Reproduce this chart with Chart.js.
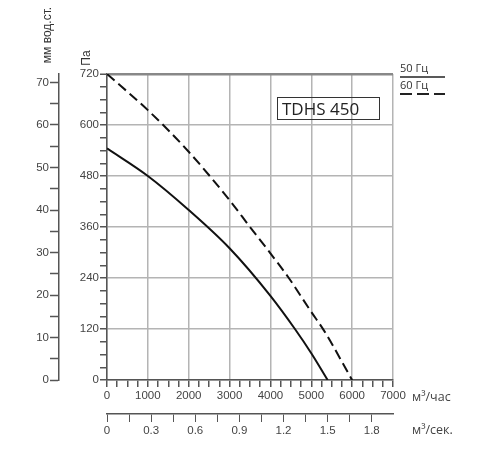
<!DOCTYPE html>
<html>
<head>
<meta charset="utf-8">
<script src="https://cdn.jsdelivr.net/npm/chart.js@4.4.0/dist/chart.umd.min.js"></script>
<style>
  html, body { margin: 0; padding: 0; background: #fff; }
  #wrap { width: 500px; height: 450px; }
</style>
</head>
<body>
<div id="wrap"><canvas id="fanChart" width="500" height="450"></canvas></div>
<script>
// Fan curve TDHS 450: pressure (Pa) vs airflow (m3/h)
const flow50 = [0, 1000, 2000, 3000, 4000, 4600, 5000, 5400];
const pressure50 = [545, 480, 400, 310, 198, 120, 63, 0];

const flow60 = [0, 1000, 2000, 3000, 3500, 4000, 4450, 5000, 5300, 6000];
const pressure60 = [720, 635, 537, 423, 360, 298, 240, 160, 118, 0];

const flowMax = 7000;
const paMax = 720;
const mmMax = 72;
const secMax = flowMax / 3600;

const modelName = 'TDHS 450';
const legendLabels = ['50 Гц', '60 Гц'];

const tickFont = { family: 'Liberation Sans', size: 11.5 };
const textColor = '#444';
const axisColor = '#555';
const gridColor = '#b4b4b4';

function toPoints(xs, ys) {
    return xs.map((x, i) => ({ x: x, y: ys[i] }));
}

function isStep(v, step) {
    const r = v / step;
    return Math.abs(r - Math.round(r)) < 1e-6;
}

// Rotated titles, unit labels, model box and legend
const decorations = {
    id: 'decorations',
    afterDraw(chart) {
        const ctx = chart.ctx;
        const area = chart.chartArea;
        ctx.save();
        ctx.fillStyle = '#333';
        ctx.font = '12px "Liberation Sans"';
        ctx.textAlign = 'center';
        ctx.textBaseline = 'middle';

        ctx.save();
        ctx.translate(48, 35);
        ctx.rotate(-Math.PI / 2);
        ctx.fillText('мм вод.ст.', 0, 0);
        ctx.restore();

        ctx.save();
        ctx.translate(87, 58);
        ctx.rotate(-Math.PI / 2);
        ctx.fillText('Па', 0, 0);
        ctx.restore();

        // unit labels
        ctx.fillStyle = textColor;
        ctx.font = '12.5px "Open Sans"';
        ctx.textAlign = 'left';
        ctx.fillText('м³/час', area.right + 19, area.bottom + 17);
        ctx.fillText('м³/сек.', area.right + 19, area.bottom + 50);

        // model box
        ctx.strokeStyle = '#333';
        ctx.lineWidth = 1;
        ctx.strokeRect(277.5, 97.5, 102, 22);
        ctx.fillStyle = '#222';
        ctx.font = '17px "Open Sans"';
        ctx.textBaseline = 'alphabetic';
        ctx.fillText(modelName, 282, 115);

        // legend
        ctx.font = '11px "Open Sans"';
        ctx.fillStyle = '#333';
        ctx.fillText(legendLabels[0], 400, 72);
        ctx.fillText(legendLabels[1], 400, 89);
        ctx.strokeStyle = '#222';
        ctx.lineWidth = 1.3;
        ctx.beginPath();
        ctx.moveTo(400, 77);
        ctx.lineTo(445, 77);
        ctx.stroke();
        ctx.lineWidth = 1.8;
        ctx.setLineDash([12, 5]);
        ctx.beginPath();
        ctx.moveTo(400, 94);
        ctx.lineTo(445, 94);
        ctx.stroke();
        ctx.restore();
    }
};

new Chart(document.getElementById('fanChart'), {
    type: 'scatter',
    data: {
        datasets: [{
            label: legendLabels[0],
            data: toPoints(flow50, pressure50),
            showLine: true,
            borderColor: '#111',
            borderWidth: 2,
            pointRadius: 0,
            cubicInterpolationMode: 'monotone',
            xAxisID: 'x',
            yAxisID: 'y'
        }, {
            label: legendLabels[1],
            data: toPoints(flow60, pressure60),
            showLine: true,
            borderColor: '#111',
            borderWidth: 2,
            borderDash: [10, 5],
            pointRadius: 0,
            cubicInterpolationMode: 'monotone',
            xAxisID: 'x',
            yAxisID: 'y'
        }]
    },
    options: {
        responsive: false,
        animation: false,
        layout: { padding: { top: 74, right: 107, bottom: 0, left: 0 } },
        plugins: {
            legend: { display: false },
            tooltip: { enabled: false }
        },
        scales: {
            x: {
                type: 'linear',
                position: 'bottom',
                weight: 0,
                min: 0,
                max: flowMax,
                afterFit: s => { s.height = 34; },
                ticks: {
                    stepSize: 250,
                    autoSkip: false,
                    maxRotation: 0,
                    padding: 2,
                    color: textColor,
                    font: tickFont,
                    callback: v => isStep(v, 1000) ? v : ''
                },
                grid: {
                    color: c => (c.tick && isStep(c.tick.value, 1000)) ? gridColor : 'transparent',
                    lineWidth: 1.5,
                    tickColor: axisColor,
                    tickLength: 7
                },
                border: { color: axisColor, width: 1.5 }
            },
            xs: {
                type: 'linear',
                position: 'bottom',
                weight: 1,
                min: 0,
                max: secMax,
                afterFit: s => { s.height = 36; },
                ticks: {
                    stepSize: 0.15,
                    autoSkip: false,
                    includeBounds: false,
                    maxRotation: 0,
                    padding: 2,
                    color: textColor,
                    font: tickFont,
                    callback: v => isStep(v, 0.3) ? +v.toFixed(1) : ''
                },
                grid: {
                    drawOnChartArea: false,
                    color: axisColor,
                    tickColor: axisColor,
                    tickLength: 8
                },
                border: { color: axisColor, width: 1.5 }
            },
            y: {
                type: 'linear',
                position: 'left',
                weight: 0,
                min: 0,
                max: paMax,
                afterFit: s => { s.width = 48; },
                ticks: {
                    stepSize: 30,
                    autoSkip: false,
                    padding: 1,
                    color: textColor,
                    font: tickFont,
                    callback: v => isStep(v, 120) ? v : ''
                },
                grid: {
                    color: c => {
                        if (!c.tick) return 'transparent';
                        if (c.tick.value === paMax) return '#888';
                        return isStep(c.tick.value, 120) ? gridColor : 'transparent';
                    },
                    lineWidth: c => (c.tick && c.tick.value === paMax) ? 2.5 : 1.5,
                    tickColor: axisColor,
                    tickWidth: 1.5,
                    tickLength: 7
                },
                border: { color: axisColor, width: 1.5 }
            },
            ymm: {
                type: 'linear',
                position: 'left',
                weight: 1,
                min: 0,
                max: mmMax,
                afterFit: s => { s.width = 59; },
                ticks: {
                    stepSize: 5,
                    autoSkip: false,
                    includeBounds: false,
                    padding: 1,
                    color: textColor,
                    font: tickFont,
                    callback: v => isStep(v, 10) ? v : ''
                },
                grid: {
                    drawOnChartArea: false,
                    color: axisColor,
                    tickColor: axisColor,
                    tickWidth: 1.5,
                    tickLength: 9
                },
                border: { color: axisColor, width: 1.5 }
            }
        }
    },
    plugins: [decorations]
});
</script>
</body>
</html>
